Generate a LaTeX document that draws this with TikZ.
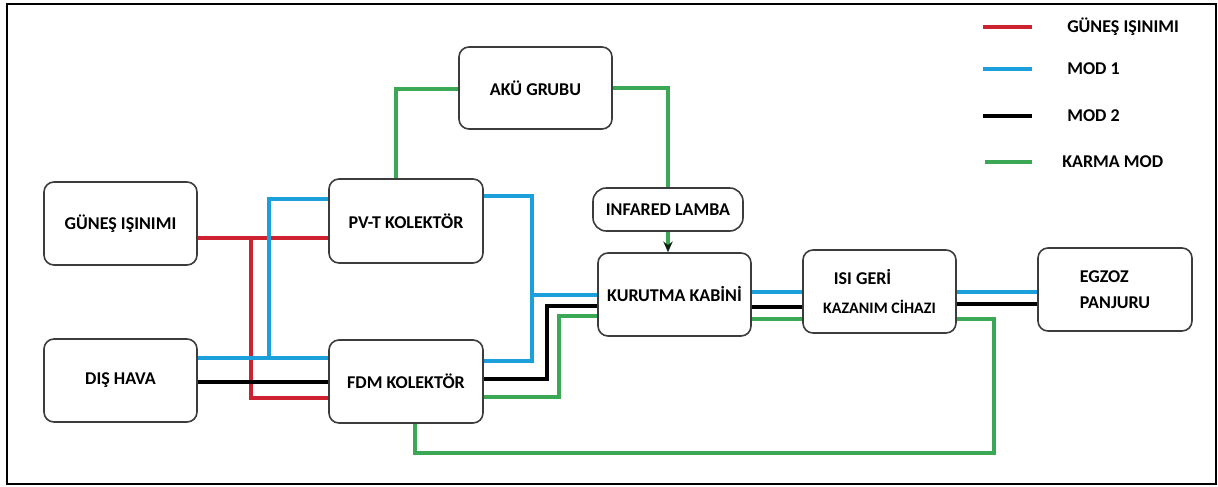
\documentclass[tikz,border=0pt]{standalone}
\usepackage{fontspec}
\setmainfont{Carlito}
\usepackage{xcolor}
\usetikzlibrary{arrows.meta}
\definecolor{isinim}{RGB}{206,34,48}
\definecolor{modbir}{RGB}{28,160,220}
\definecolor{modiki}{RGB}{0,0,0}
\definecolor{karma}{RGB}{58,168,84}
\definecolor{kutu}{RGB}{60,60,60}
\tikzset{
  kutu/.style={draw=kutu, line width=1.2pt, rounded corners=7.5pt, minimum width=114.75pt, minimum height=62.25pt, inner sep=0pt, font=\fontsize{13.5}{16}\selectfont\bfseries},
  lamba/.style={kutu, rounded corners=10pt, minimum width=112.5pt, minimum height=32.25pt},
  hat/.style={line width=2.5pt},
  kirmizi/.style={hat, draw=isinim},
  mavi/.style={hat, draw=modbir},
  siyah/.style={hat, draw=modiki},
  yesil/.style={hat, draw=karma},
  etiket/.style={anchor=west, inner sep=0pt, font=\fontsize{13.5}{16}\selectfont\bfseries}
}
\begin{document}
\begin{tikzpicture}[x=0.75pt,y=0.75pt,yscale=-1,xscale=1]
\useasboundingbox (0,0) rectangle (1218,486);
% frame
\draw [line width=1.6pt] (7,4) rectangle (1216,484);

% Text Node
\node [kutu] (gunes) at (120.5,223.5) {GÜNEŞ IŞINIMI};
% Text Node
\node [kutu] (dis) at (120.5,380.5) {DIŞ HAVA};
% Text Node
\node [kutu, minimum width=115.5pt, minimum height=63pt] (pvt) at (406,221) {PV-T KOLEKTÖR};
% Text Node
\node [kutu, minimum width=115.5pt] (fdm) at (406,381.5) {FDM KOLEKTÖR};
% Text Node
\node [kutu, minimum height=61.5pt] (aku) at (535.5,88) {AKÜ GRUBU};
% Text Node
\node [lamba] (ir) at (668,209.5) {INFARED LAMBA};
% Text Node
\node [kutu] (kabin) at (674.5,294.5) {KURUTMA KABİNİ};
% Text Node
\node [kutu, align=left] (isi) at (879.5,291.5) {\hspace*{8pt}ISI GERİ\\[6pt]{\fontsize{12}{14}\selectfont KAZANIM CİHAZI}};
% Text Node
\node [kutu, minimum width=115.5pt, align=left] (egzoz) at (1115,289.5) {EGZOZ\\[3pt]PANJURU};

% joints
\coordinate (rj) at (251,238);
\coordinate (bj) at (269,358);
\coordinate (bk) at (532,295);
\coordinate (sk) at (547,306);
\coordinate (yk) at (559,316);
\coordinate (yb) at (994,453);

%Straight Lines
\draw [kirmizi] (gunes.east |- rj) -- (pvt.west |- rj);
\draw [kirmizi] (rj) |- (fdm.west |- 0,398);
%Straight Lines
\draw [mavi] (dis.east |- bj) -- (fdm.west |- bj);
\draw [mavi] (bj) |- (pvt.west |- 0,199);
%Straight Lines
\draw [siyah] (dis.east |- 0,382) -- (fdm.west |- 0,382);
%Straight Lines
\draw [yesil] (pvt.north -| 396,0) |- (aku.west |- 0,89);
\draw [yesil] (aku.east |- 0,88) -| (ir.north);
\draw [yesil, -{Stealth[length=8pt,width=7pt,black!80!karma]}] (ir.south) -- (ir.south |- kabin.north);
%Straight Lines
\draw [mavi] (pvt.east |- 0,196) -| (bk) |- (fdm.east |- 0,361);
\draw [mavi] (bk) -- (kabin.west |- bk);
\draw [siyah] (fdm.east |- 0,379) -| (sk) -- (kabin.west |- sk);
\draw [yesil] (fdm.east |- 0,397) -| (yk) -- (kabin.west |- yk);
\draw [yesil] (fdm.south -| 415,0) |- (yb) |- (isi.east |- 0,319);
%Straight Lines
\draw [mavi] (kabin.east |- 0,292) -- (isi.west |- 0,292);
\draw [siyah] (kabin.east |- 0,307) -- (isi.west |- 0,307);
\draw [yesil] (kabin.east |- 0,319) -- (isi.west |- 0,319);
\draw [mavi] (isi.east |- 0,292) -- (egzoz.west |- 0,292);
\draw [siyah] (isi.east |- 0,304) -- (egzoz.west |- 0,304);

% legend
\draw [kirmizi] (983,27) -- (1032,27);
\node [etiket] (l1) at (1067,27) {GÜNEŞ IŞINIMI};
\draw [mavi] (983,69) -- (1032,69);
\node [etiket] (l2) at (1067,69) {MOD 1};
\draw [siyah] (983,116) -- (1032,116);
\node [etiket] (l3) at (1067,116) {MOD 2};
\draw [yesil] (985,162) -- (1032,162);
\node [etiket] (l4) at (1062,162) {KARMA MOD};

\end{tikzpicture}
\end{document}
